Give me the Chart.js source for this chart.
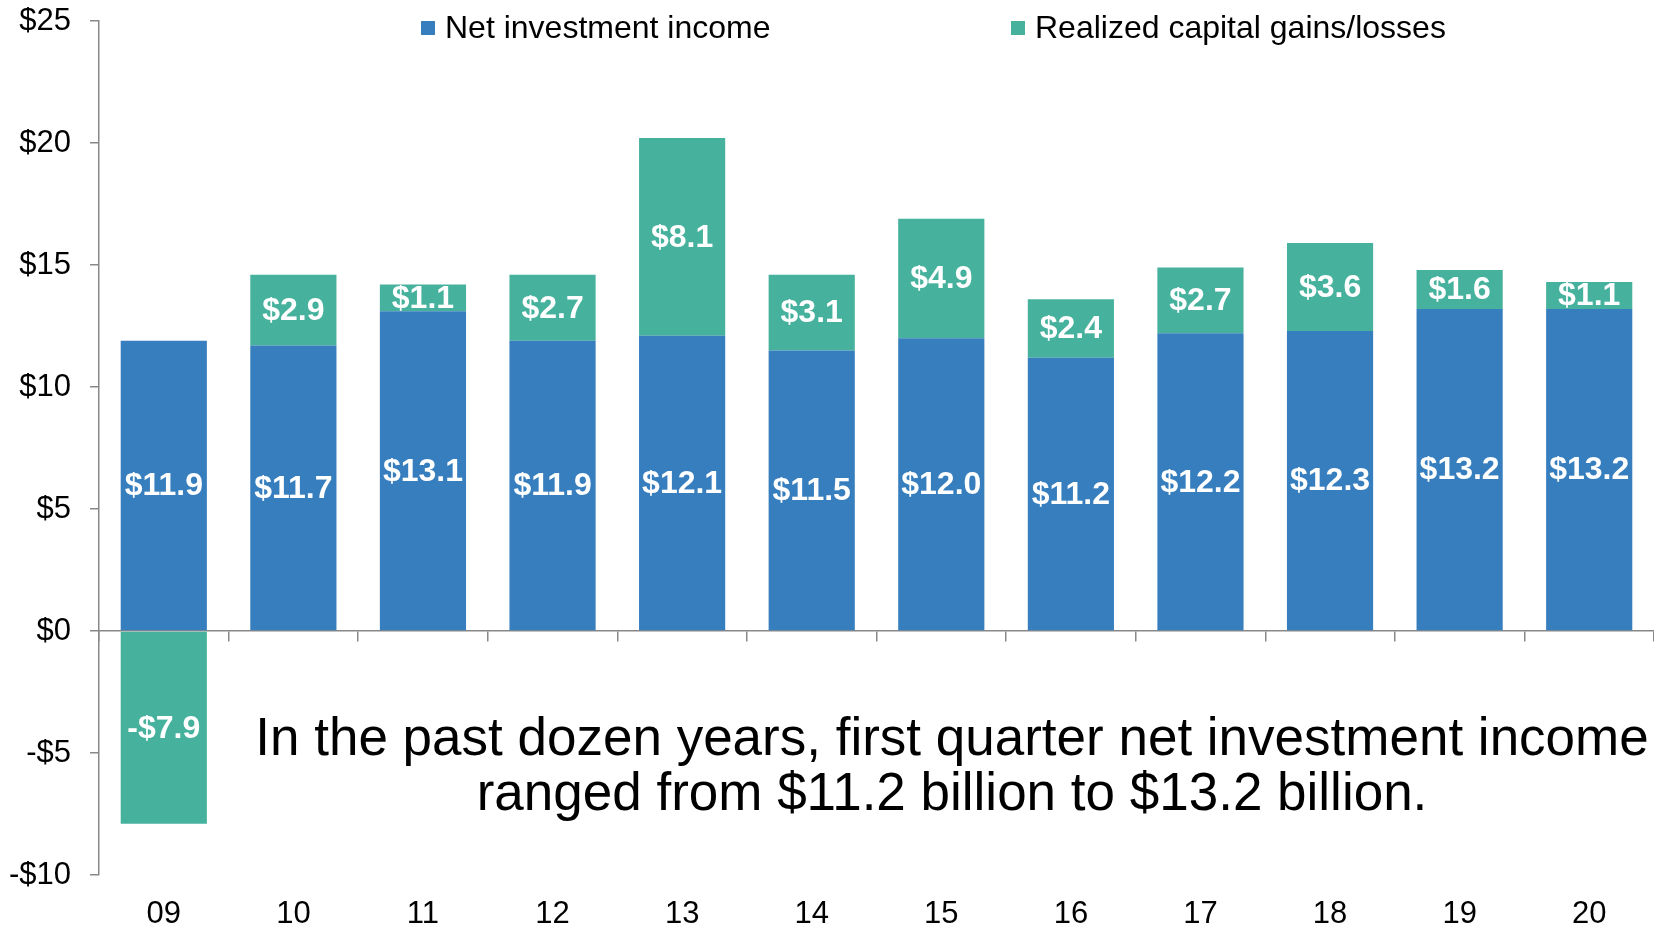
<!DOCTYPE html>
<html>
<head>
<meta charset="utf-8">
<script src="https://cdn.jsdelivr.net/npm/chart.js@4/dist/chart.umd.min.js"></script>
<style>
  body { margin: 0; background: #fff; font-family: "Liberation Sans", Arial, sans-serif; }
  #wrap { position: relative; width: 1654px; height: 927px; }
  canvas { position: absolute; left: 0; top: 0; }
  .legend-item { position: absolute; top: 12px; font-size: 32px; line-height: 30px; color: #000; white-space: nowrap; }
  .legend-item i { position: absolute; left: -24px; top: 9px; width: 14px; height: 14px; }
  #note { position: absolute; left: 152px; width: 1600px; top: 709px; text-align: center;
          font-size: 53px; line-height: 55px; color: #000; }
</style>
</head>
<body>
<div id="wrap">
  <canvas id="chart" width="1654" height="927"></canvas>
  <div id="legend"></div>
  <div id="note">In the past dozen years, first quarter net investment income<br>ranged from $11.2 billion to $13.2 billion.</div>
</div>
<script>
const years = ['09', '10', '11', '12', '13', '14', '15', '16', '17', '18', '19', '20'];
const netIncome = [11.9, 11.7, 13.1, 11.9, 12.1, 11.5, 12.0, 11.2, 12.2, 12.3, 13.2, 13.2];
const capitalGains = [-7.9, 2.9, 1.1, 2.7, 8.1, 3.1, 4.9, 2.4, 2.7, 3.6, 1.6, 1.1];
const seriesNames = ['Net investment income', 'Realized capital gains/losses'];
const seriesColors = ['#367EBE', '#46B29D'];
const legendX = [445, 1035];

const FONT = '"Liberation Sans", Arial, sans-serif';
const AXIS = '#888888';

function money(v) {
  return v < 0 ? '-$' + Math.abs(v) : '$' + v;
}

// legend built from the series
const legend = document.getElementById('legend');
seriesNames.forEach((name, i) => {
  const item = document.createElement('div');
  item.className = 'legend-item';
  item.style.left = legendX[i] + 'px';
  item.innerHTML = `<i style="background:${seriesColors[i]}"></i>${name}`;
  legend.appendChild(item);
});

// white value labels in the middle of each bar segment
const barLabels = {
  id: 'barLabels',
  afterDatasetsDraw(chart) {
    const c = chart.ctx;
    c.save();
    c.fillStyle = '#fff';
    c.font = 'bold 32px ' + FONT;
    c.textAlign = 'center';
    c.textBaseline = 'middle';
    chart.data.datasets.forEach((ds, di) => {
      chart.getDatasetMeta(di).data.forEach((bar, i) => {
        const p = bar.getProps(['x', 'y', 'base'], true);
        const v = ds.data[i];
        const txt = (v < 0 ? '-$' : '$') + Math.abs(v).toFixed(1);
        c.fillText(txt, p.x, (p.y + p.base) / 2 + 1);
      });
    });
    c.restore();
  }
};

new Chart(document.getElementById('chart'), {
  type: 'bar',
  data: {
    labels: years,
    datasets: [
      { label: seriesNames[0], data: netIncome, backgroundColor: seriesColors[0] },
      { label: seriesNames[1], data: capitalGains, backgroundColor: seriesColors[1] }
    ]
  },
  options: {
    responsive: false,
    animation: false,
    layout: { padding: { top: 21, right: 0, left: 0, bottom: 0 } },
    datasets: { bar: { categoryPercentage: 1, barPercentage: 0.665 } },
    plugins: { legend: { display: false }, tooltip: { enabled: false } },
    scales: {
      x: {
        stacked: true,
        position: 'bottom',
        grid: { display: false, drawTicks: false },
        border: { display: false },
        ticks: { color: '#000', font: { size: 31, family: FONT }, padding: 21 },
        afterFit(scale) { scale.height = 52; scale.paddingLeft = 0; scale.paddingRight = 0; }
      },
      xZero: {
        type: 'category',
        position: { y: 0 },
        grid: { drawOnChartArea: false, offset: true, tickLength: 10, color: AXIS, lineWidth: 1.5 },
        border: { color: AXIS, width: 1.5 },
        ticks: { display: false },
        afterFit(scale) { scale.paddingLeft = 0; scale.paddingRight = 0; scale.paddingTop = 0; scale.paddingBottom = 0; }
      },
      y: {
        stacked: true,
        min: -10,
        max: 25,
        ticks: { stepSize: 5, color: '#000', font: { size: 31, family: FONT }, padding: 19, callback: money },
        grid: { drawOnChartArea: false, tickLength: 9, color: AXIS, lineWidth: 1.5 },
        border: { color: AXIS, width: 1.5 },
        afterFit(scale) { scale.width = 99; scale.paddingTop = 0; scale.paddingBottom = 0; }
      }
    }
  },
  plugins: [barLabels]
});
</script>
</body>
</html>
